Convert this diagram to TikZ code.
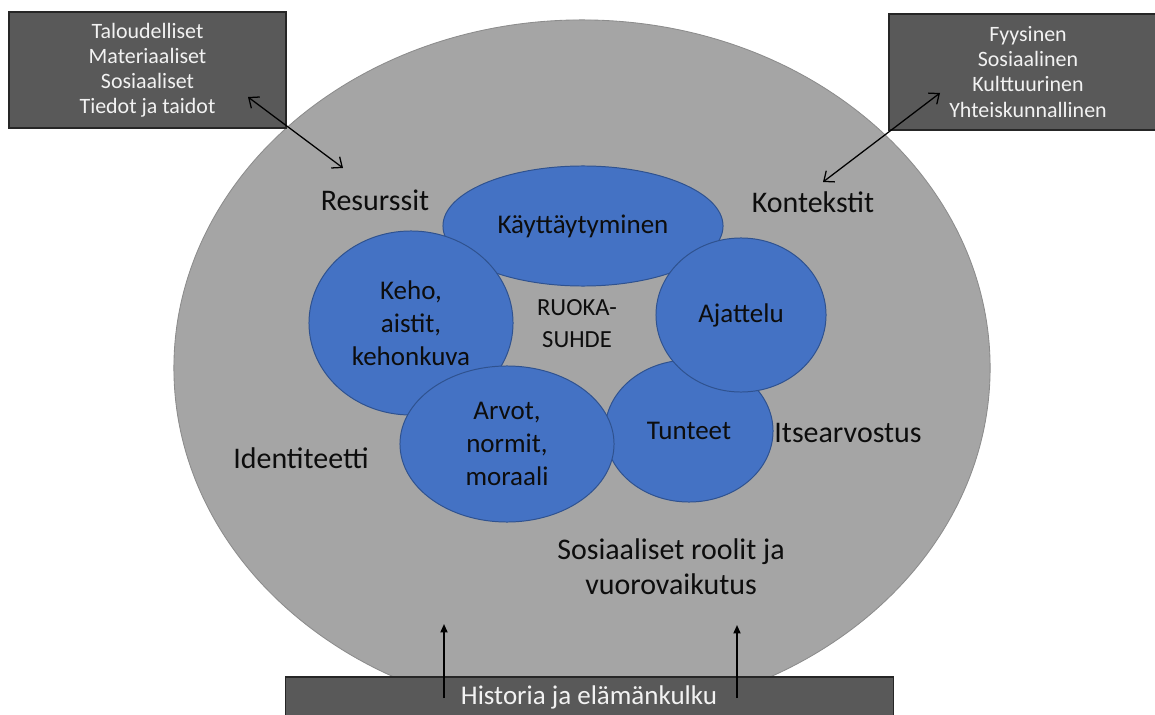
\documentclass[tikz,border=0pt]{standalone}
\usepackage{fontspec}
\setmainfont{Carlito}
\usetikzlibrary{positioning,arrows.meta,shapes.geometric}
\definecolor{ringgray}{HTML}{A5A5A5}
\definecolor{ringedge}{HTML}{8C8C8C}
\definecolor{facetblue}{HTML}{4472C4}
\definecolor{facetedge}{HTML}{2F528F}
\definecolor{darkbox}{HTML}{595959}
\definecolor{boxedge}{HTML}{262626}
\definecolor{ink}{HTML}{0D0D0D}
\definecolor{paper}{HTML}{F2F2F2}
\newcommand{\lblsz}{\fontsize{21.3pt}{25pt}\selectfont}
\newcommand{\facetsz}{\fontsize{19.2pt}{23.5pt}\selectfont}
\newcommand{\boxsz}{\fontsize{15.6pt}{17.8pt}\selectfont}
\tikzset{
  facet/.style={ellipse, draw=facetedge, line width=0.7pt, fill=facetblue,
    inner sep=0pt, align=center, text=ink, font=\facetsz},
  infobox/.style={rectangle, draw=boxedge, line width=0.8pt, fill=darkbox,
    inner sep=0pt, align=center, text=paper, font=\boxsz},
  lab/.style={font=\lblsz, text=ink, align=center},
  dbl/.style={{Straight Barb[length=6pt,width=10pt]}-{Straight Barb[length=6pt,width=10pt]},
    line width=0.9pt, black},
  uparr/.style={-{Triangle[length=6pt,width=5pt]}, line width=1.2pt, black},
}

\begin{document}
\begin{tikzpicture}[x=0.025cm, y=-0.025cm]
    \useasboundingbox (0,0) rectangle (1155,715);
    \clip (0,0) rectangle (1155,715);
    % outer ring
    \node[ellipse, draw=ringedge, line width=0.6pt, fill=ringgray,
      minimum width=20.4cm, minimum height=17.4cm] (ring) at (582,368) {};
    % boxes
    \node[infobox, minimum width=6.925cm, minimum height=2.9cm] (resbox) at (147.5,70)
      {Taloudelliset\\Materiaaliset\\Sosiaaliset\\Tiedot ja taidot};
    \node[infobox, minimum width=6.95cm, minimum height=2.9cm] (konbox) at (1028,72)
      {Fyysinen\\Sosiaalinen\\Kulttuurinen\\Yhteiskunnallinen};
    \node[infobox, minimum width=15.175cm, minimum height=1.5cm] (hist) at (589.5,707) {};
    \node[font=\facetsz, text=paper] (histlab) at (589,697) {Historia ja elämänkulku};
    % labels
    \node[lab] (res) at (375,200) {Resurssit};
    \node[lab] (kon) at (813,202) {Kontekstit};
    \node[lab] (iden) at (301,458) {Identiteetti};
    \node[lab] (itse) at (848,433) {Itsearvostus};
    \node[lab] (rool) at (671,567) {Sosiaaliset roolit ja\\vuorovaikutus};
    % facets
    \node[facet, minimum width=7.0cm, minimum height=3.0cm] (kay) at (583,226) {Käyttäytyminen};
    \node[facet, minimum width=5.1cm, minimum height=4.6cm] (keho) at (411,323) {Keho,\\aistit,\\kehonkuva};
    \node[facet, minimum width=4.2cm, minimum height=3.55cm] (tun) at (689,431) {Tunteet};
    \node[facet, minimum width=5.35cm, minimum height=3.9cm] (arv) at (507,444) {Arvot,\\normit,\\moraali};
    \node[facet, minimum width=4.25cm, minimum height=3.85cm] (aja) at (741,315) {Ajattelu};
    \node[font=\fontsize{17.5pt}{22.8pt}\selectfont, text=ink, align=center] (ruoka) at (577,324) {RUOKA-\\SUHDE};
    % connectors
    \coordinate (resA) at (248,97);
    \coordinate (resB) at (343,168);
    \coordinate (konA) at (940,93);
    \coordinate (konB) at (823,182);
    \coordinate (histL) at (444,698);
    \coordinate (histR) at (737,698);
    \draw[dbl] (resA) -- (resB);
    \draw[dbl] (konA) -- (konB);
    \draw[uparr] (histL) -- (histL |- 0,624);
    \draw[uparr] (histR) -- (histR |- 0,625);
\end{tikzpicture}
\end{document}
